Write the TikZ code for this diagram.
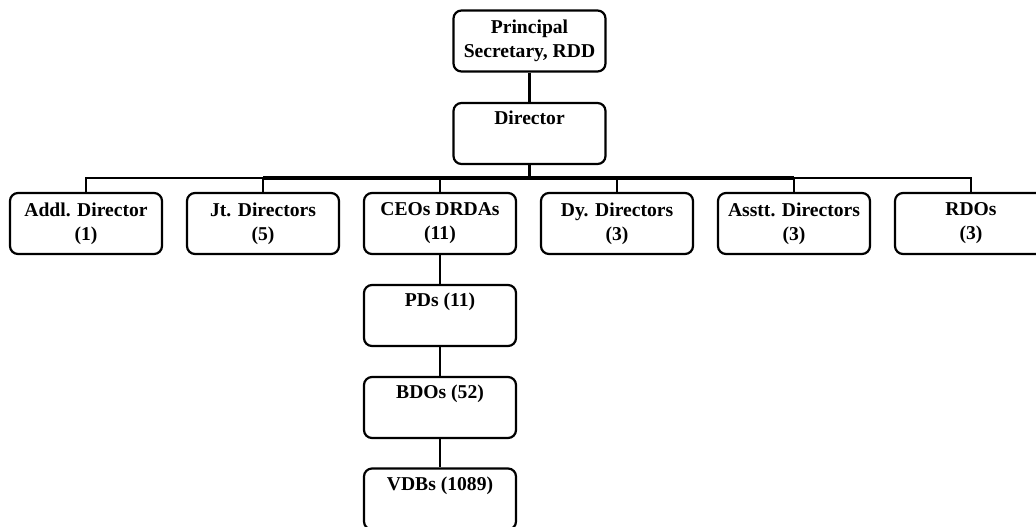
\documentclass[tikz,border=0pt]{standalone}
\usepackage{fontspec}
\setmainfont{Liberation Serif}
\usetikzlibrary{positioning}

\begin{document}
\begin{tikzpicture}[x=0.5pt, y=-0.5pt, box/.style={rectangle, draw, rounded corners=4pt, line width=1.1pt, minimum width=76pt, minimum height=30.5pt, align=center, inner sep=1pt, font=\fontsize{9.8}{12}\selectfont\bfseries}, link/.style={line width=1.1pt}, drop/.style={line width=0.9pt}, trunk/.style={line width=1.9pt}]
  \clip (0,0) rectangle (1036,526);
  \node[box] (ps) at (529.5,41) {Principal\\Secretary, RDD};
  \node[box] (dir) at (529.5,133.5) {Director\\\strut};
  \node[box] (addl) at (86,223.5) {Addl. Director\\(1)};
  \node[box] (jt) at (263,223.5) {Jt. Directors\\(5)};
  \node[box] (ceo) at (440,223.5) {CEOs DRDAs\\(11)};
  \node[box] (dy) at (617,223.5) {Dy. Directors\\(3)};
  \node[box] (asst) at (794,223.5) {Asstt. Directors\\(3)};
  \node[box] (rdo) at (971,223.5) {RDOs\\(3)};
  \node[box] (pd) at (440,315.5) {PDs (11)\\\strut};
  \node[box] (bdo) at (440,407.5) {BDOs (52)\\\strut};
  \node[box] (vdb) at (440,499) {VDBs (1089)\\\strut};
  \coordinate (bus) at (529.5,178);
  % connectors
  \draw[link] (ps) -- (dir);
  \draw[drop] (bus) -| (addl.north);
  \draw[drop] (bus) -| (jt.north);
  \draw[drop] (bus) -| (ceo.north);
  \draw[drop] (bus) -| (dy.north);
  \draw[drop] (bus) -| (asst.north);
  \draw[drop] (bus) -| (rdo.north);
  \draw[trunk] (jt.north |- bus) -- (asst.north |- bus);
  \draw[trunk] (dir.south) -- (bus);
  \draw[link] (ceo) -- (pd);
  \draw[link] (pd) -- (bdo);
  \draw[link] (bdo) -- (vdb);
\end{tikzpicture}
\end{document}
